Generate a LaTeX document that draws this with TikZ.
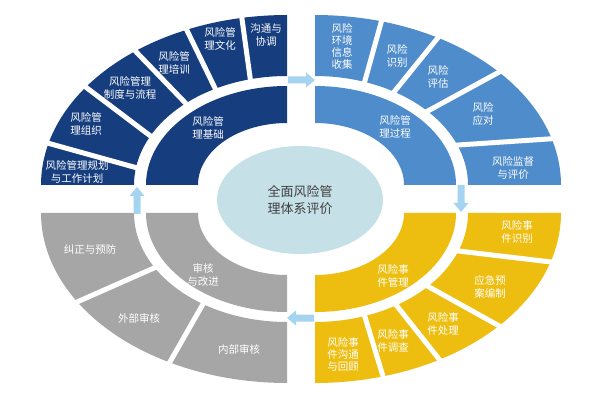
\documentclass[tikz,border=0pt]{standalone}
\usepackage{fontspec}
\newfontfamily\cjk{Noto Sans CJK SC}
\usetikzlibrary{shapes.geometric}
\definecolor{navy}{HTML}{163D7E}
\definecolor{midblue}{HTML}{4F8CCB}
\definecolor{gold}{HTML}{EDBE10}
\definecolor{greyc}{HTML}{A6A6A6}
\definecolor{centerc}{HTML}{C5E0E6}
\definecolor{arrowc}{HTML}{A5D4F0}
\definecolor{ctext}{HTML}{404040}
% ring band: cx cy sx sy Rx Ry rx ry color
\newcommand\ringfill[9]{%
  \fill[#9] plot[domain=0:90,samples=80] ({#1+(#3)*(#5)*cos(\x)},{#2+(#4)*(#6)*sin(\x)})
    -- plot[domain=90:0,samples=80] ({#1+(#3)*(#7)*cos(\x)},{#2+(#4)*(#8)*sin(\x)}) -- cycle;}
% separator: cx cy sx sy outer-angle inner-angle
\newcommand\ringsep[6]{%
  \draw[sepline] ({#1+(#3)*250*cos(#5)},{#2+(#4)*173*sin(#5)})
    -- ({#1+(#3)*150*cos(#6)},{#2+(#4)*106*sin(#6)});}
% block arrow: tip x, tip y, rotation
\newcommand\blockarr[3]{%
  \begin{scope}[shift={(#1,#2)},rotate=#3]
    \fill[arrowc] (-27,-3.5) -- (-9,-3.5) -- (-9,-7.5) -- (0,0) -- (-9,7.5) -- (-9,3.5) -- (-27,3.5) -- cycle;
  \end{scope}}
\tikzset{
  sepline/.style={white,line width=5pt},
  seg/.style={text=white,font=\cjk\fontsize{10.5}{13}\selectfont,align=center,inner sep=0pt},
  ctr/.style={ellipse,fill=centerc,minimum width=166pt,minimum height=108pt,inner sep=0pt,
    text=ctext,font=\cjk\fontsize{13}{17}\selectfont,align=center}
}
\begin{document}
\begin{tikzpicture}[x=1pt,y=-1pt]
\useasboundingbox (0,0) rectangle (595,401);
\fill[white] (0,0) rectangle (595,401);
% top-left (navy)
\ringfill{287}{185}{-1}{-1}{246}{170}{153}{109}{navy}
\ringfill{287}{185}{-1}{-1}{141}{99}{89}{62}{navy}
\ringsep{287}{185}{-1}{-1}{14.3}{9}
\ringsep{287}{185}{-1}{-1}{35.3}{26.5}
\ringsep{287}{185}{-1}{-1}{52}{48.6}
\ringsep{287}{185}{-1}{-1}{66}{62}
\ringsep{287}{185}{-1}{-1}{79.5}{76}
% top-right (mid blue)
\ringfill{315}{185}{1}{-1}{246}{170}{153}{109}{midblue}
\ringfill{315}{185}{1}{-1}{141}{99}{89}{62}{midblue}
\ringsep{315}{185}{1}{-1}{74.4}{71}
\ringsep{315}{185}{1}{-1}{60}{59}
\ringsep{315}{185}{1}{-1}{41.5}{43}
\ringsep{315}{185}{1}{-1}{15.6}{22}
% bottom-right (gold)
\ringfill{315}{213}{1}{1}{246}{170}{153}{109}{gold}
\ringfill{315}{213}{1}{1}{141}{99}{89}{62}{gold}
\ringsep{315}{213}{1}{1}{16.6}{20.8}
\ringsep{315}{213}{1}{1}{41.5}{42.7}
\ringsep{315}{213}{1}{1}{59.6}{58}
\ringsep{315}{213}{1}{1}{74}{71}
% bottom-left (grey)
\ringfill{287}{213}{-1}{1}{246}{170}{153}{109}{greyc}
\ringfill{287}{213}{-1}{1}{141}{99}{89}{62}{greyc}
\ringsep{287}{213}{-1}{1}{31.5}{30.3}
\ringsep{287}{213}{-1}{1}{61.6}{56.6}
% centre
\node[ctr] (centre) at (300,200) {全面风险管\\理体系评价};
% arrows
\blockarr{315}{80}{0}
\blockarr{461}{212}{-90}
\blockarr{287}{318}{180}
\blockarr{137}{187}{90}
% texts top-left
\node[seg] (tl1) at (266,35) {沟通与\\协调};
\node[seg] (tl2) at (220,39) {风险管\\理文化};
\node[seg] (tl3) at (174,63) {风险管\\理培训};
\node[seg] (tl4) at (130,88) {风险管理\\制度与流程};
\node[seg] (tl5) at (86,124) {风险管\\理组织};
\node[seg] (tl6) at (77,172) {风险管理规划\\与工作计划};
\node[seg] (tli) at (208,128) {风险管\\理基础};
% texts top-right
\node[seg,font=\cjk\fontsize{10.5}{12}\selectfont] (tr1) at (342,46) {风险\\环境\\信息\\收集};
\node[seg] (tr2) at (397,56) {风险\\识别};
\node[seg] (tr3) at (438,77) {风险\\评估};
\node[seg] (tr4) at (483,114) {风险\\应对};
\node[seg] (tr5) at (513,168) {风险监督\\与评价};
\node[seg] (tri) at (395,127) {风险管\\理过程};
% texts bottom-right
\node[seg] (br1) at (517,232) {风险事\\件识别};
\node[seg] (br2) at (490,287) {应急预\\案编制};
\node[seg] (br3) at (443,324) {风险事\\件处理};
\node[seg] (br4) at (393,341) {风险事\\件调查};
\node[seg,font=\cjk\fontsize{10.5}{12}\selectfont] (br5) at (343,354) {风险事\\件沟通\\与回顾};
\node[seg] (bri) at (393,276) {风险事\\件管理};
% texts bottom-left
\node[seg] (bl1) at (90,250) {纠正与预防};
\node[seg] (bl2) at (139,318) {外部审核};
\node[seg] (bl3) at (239,349) {内部审核};
\node[seg] (bli) at (203,275) {审核\\与改进};
\end{tikzpicture}
\end{document}
